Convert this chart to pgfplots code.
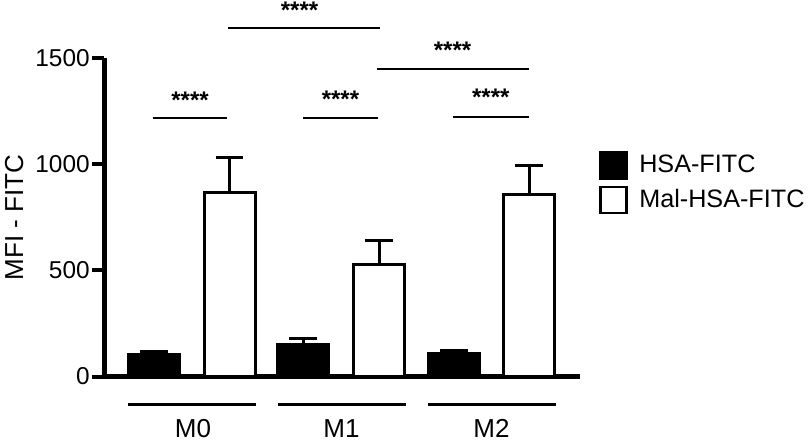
\documentclass[border=0pt]{standalone}
\usepackage{fontspec}
\setmainfont{Liberation Sans}
\usepackage{pgfplots}
\pgfplotsset{compat=1.18}

\pgfplotsset{
  sqlegend/.style={legend image code/.code={
    \draw[##1, line width=1.4pt] (0pt,-6.5pt) rectangle (13pt,6.5pt);}},
}
\tikzset{
  sig/.style={line width=1pt},
  stars/.style={font=\bfseries\fontsize{12}{13}\selectfont, inner sep=0pt},
  grp/.style={font=\fontsize{13}{14}\selectfont, inner sep=0pt},
}

\begin{document}
\begin{tikzpicture}
\begin{axis}[
    scale only axis,
    width=238pt, height=159.2pt,
    xmin=-0.583, xmax=2.59,
    ymin=0, ymax=1500,
    clip=false,
    axis x line=bottom,
    axis y line=left,
    axis line style={-, line width=2.5pt},
    xtick=\empty,
    ytick={0,500,1000,1500},
    tick align=outside,
    major tick length=6pt,
    tick style={line width=2pt, black},
    /pgf/number format/assume math mode=true,
    /pgf/number format/1000 sep={},
    yticklabel style={font=\fontsize{12.2}{13}\selectfont, inner sep=1pt},
    ylabel={MFI - FITC},
    ylabel style={font=\fontsize{13}{14}\selectfont, inner sep=0pt,
        at={(axis description cs:-0.189,0.5)}, anchor=center},
    ybar,
    bar width=0.34,
    legend style={at={(axis description cs:1.04,0.71)}, anchor=north west,
        draw=none, fill=none, inner sep=0pt, row sep=3pt,
        font=\fontsize{12.6}{13}\selectfont,
        nodes={inner sep=1pt},
        /tikz/every odd column/.append style={column sep=4.5pt}},
    legend cell align=left,
]
% HSA-FITC
\addplot[sqlegend, bar shift=0pt, fill=black, draw=black, line width=1.5pt,
    error bars/.cd, y dir=plus, y explicit,
    error bar style={line width=1.5pt, black},
    error mark options={rotate=90, mark size=7pt, line width=1.5pt, black}]
    coordinates {(-0.25,105) +- (0,13) (0.745,153) +- (0,28) (1.75,110) +- (0,12)};
% Mal-HSA-FITC
\addplot[sqlegend, bar shift=0pt, fill=white, draw=black, line width=1.5pt,
    error bars/.cd, y dir=plus, y explicit,
    error bar style={line width=1.5pt, black},
    error mark options={rotate=90, mark size=7pt, line width=1.5pt, black}]
    coordinates {(0.253,867) +- (0,166) (1.25,529) +- (0,112) (2.25,856) +- (0,138)};
\legend{HSA-FITC, Mal-HSA-FITC}

% significance brackets
\draw[sig] (axis cs:-0.26,1220) -- (axis cs:0.237,1220);
\node[stars] at (axis cs:-0.01,1301) {****};
\draw[sig] (axis cs:0.743,1220) -- (axis cs:1.243,1220);
\node[stars] at (axis cs:0.993,1306) {****};
\draw[sig] (axis cs:1.743,1223) -- (axis cs:2.25,1223);
\node[stars] at (axis cs:1.995,1314) {****};
\draw[sig] (axis cs:1.237,1448) -- (axis cs:2.25,1448);
\node[stars] at (axis cs:1.74,1536) {****};
\draw[sig] (axis cs:0.243,1642) -- (axis cs:1.257,1642);
\node[stars] at (axis cs:0.72,1728) {****};

% group labels
\draw[line width=1.5pt] (axis cs:-0.425,-133) -- (axis cs:0.43,-133);
\draw[line width=1.5pt] (axis cs:0.577,-133) -- (axis cs:1.43,-133);
\draw[line width=1.5pt] (axis cs:1.575,-133) -- (axis cs:2.43,-133);
\node[grp] at (axis cs:0.01,-246) {M0};
\node[grp] at (axis cs:1.0,-246) {M1};
\node[grp] at (axis cs:2.0,-246) {M2};

% fix page extent to the reference frame
\path (axis cs:-1.277,1774) rectangle (axis cs:4.123,-327);
\end{axis}
\end{tikzpicture}
\end{document}
